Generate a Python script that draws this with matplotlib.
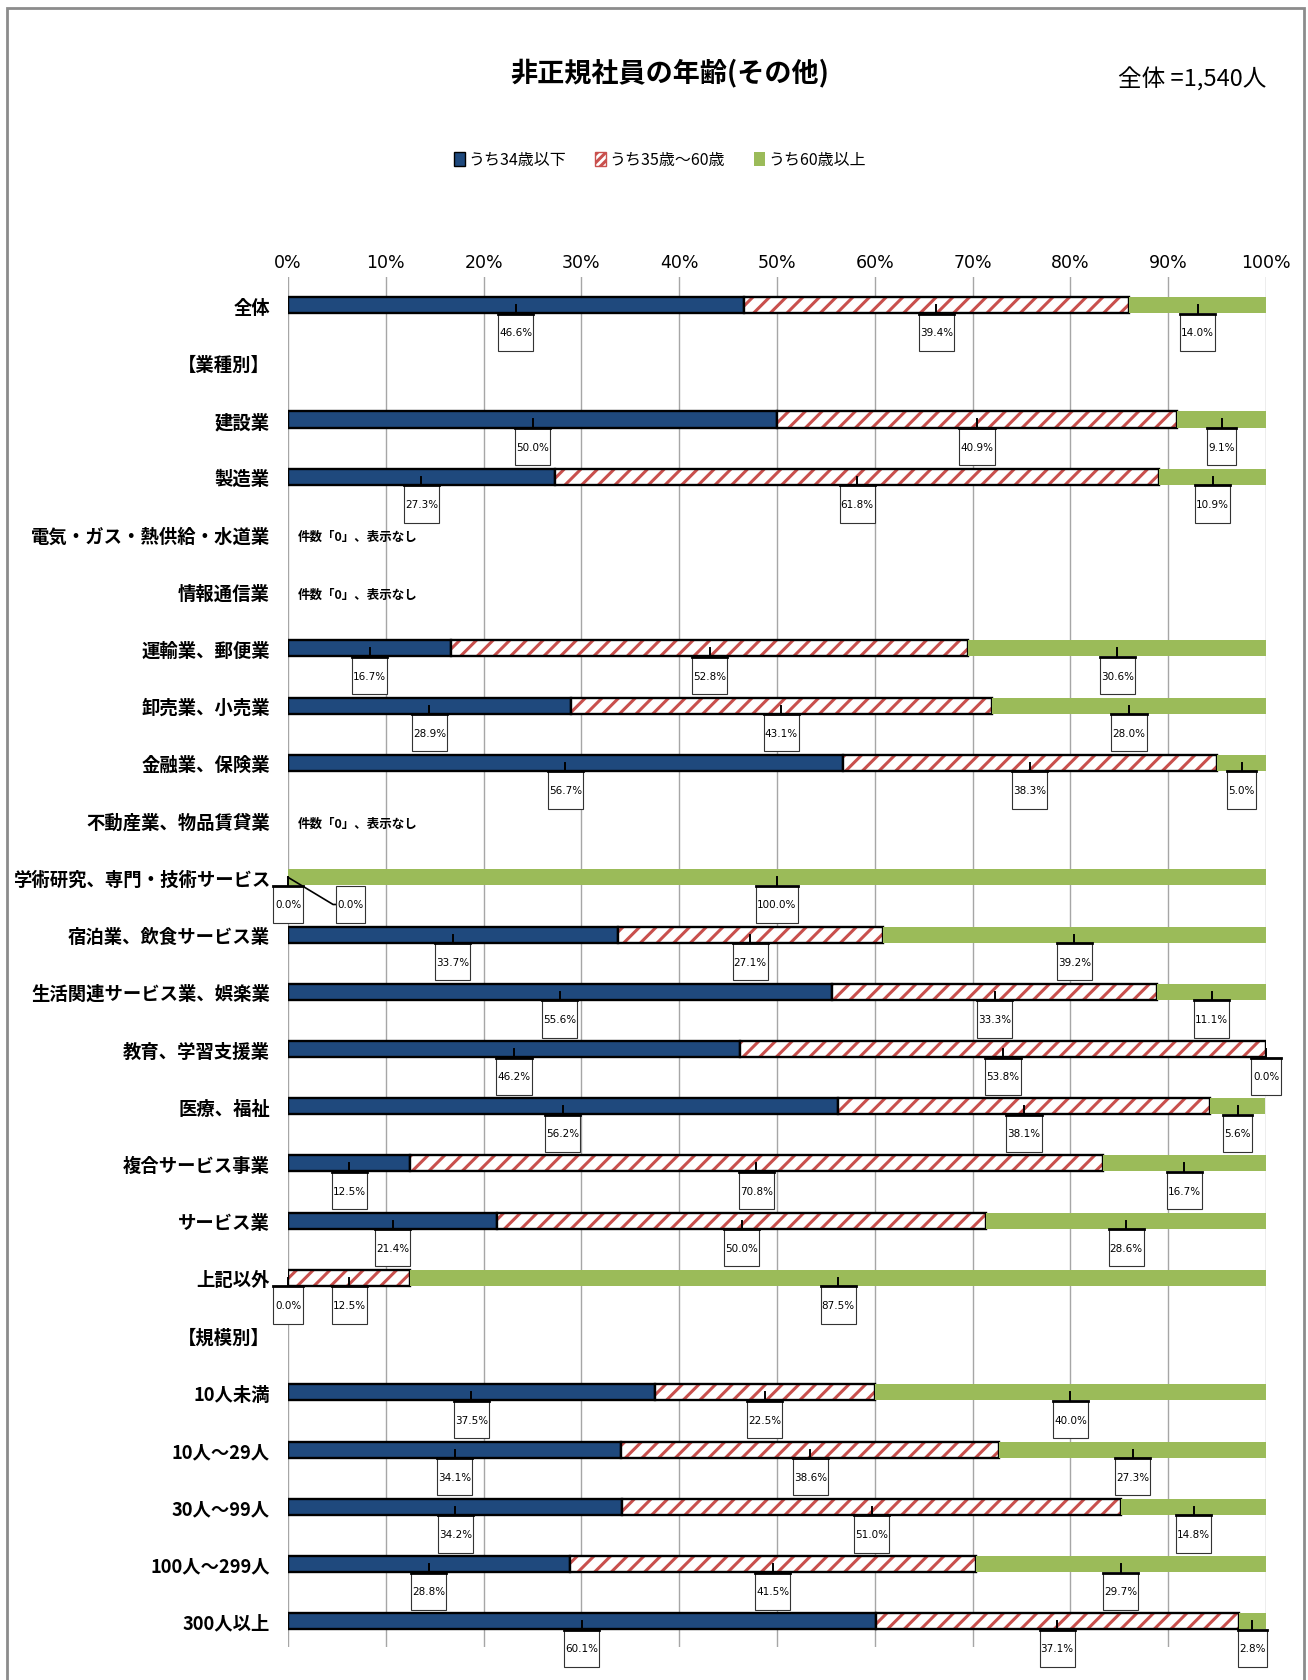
import matplotlib
matplotlib.use("Agg")
import matplotlib.pyplot as plt
from matplotlib.patches import Patch, Rectangle
import numpy as np

plt.rcParams['font.family'] = ['Noto Sans CJK JP', 'DejaVu Sans']
plt.rcParams['hatch.linewidth'] = 2.2

nan = np.nan

# rows of the chart, top to bottom (section headers carry no data)
categories = ['全体', '【業種別】', '建設業', '製造業', '電気・ガス・熱供給・水道業', '情報通信業',
              '運輸業、郵便業', '卸売業、小売業', '金融業、保険業', '不動産業、物品賃貸業',
              '学術研究、専門・技術サービス', '宿泊業、飲食サービス業', '生活関連サービス業、娯楽業',
              '教育、学習支援業', '医療、福祉', '複合サービス事業', 'サービス業', '上記以外',
              '【規模別】', '10人未満', '10人～29人', '30人～99人', '100人～299人', '300人以上']

under34 = [46.6, nan, 50.0, 27.3, nan, nan, 16.7, 28.9, 56.7, nan, 0.0, 33.7, 55.6,
           46.2, 56.2, 12.5, 21.4, 0.0, nan, 37.5, 34.1, 34.2, 28.8, 60.1]
age35_60 = [39.4, nan, 40.9, 61.8, nan, nan, 52.8, 43.1, 38.3, nan, 0.0, 27.1, 33.3,
            53.8, 38.1, 70.8, 50.0, 12.5, nan, 22.5, 38.6, 51.0, 41.5, 37.1]
over60 = [14.0, nan, 9.1, 10.9, nan, nan, 30.6, 28.0, 5.0, nan, 100.0, 39.2, 11.1,
          0.0, 5.6, 16.7, 28.6, 87.5, nan, 40.0, 27.3, 14.8, 29.7, 2.8]

series_names = ['うち34歳以下', 'うち35歳～60歳', 'うち60歳以上']
no_data_rows = ['電気・ガス・熱供給・水道業', '情報通信業', '不動産業、物品賃貸業']
no_data_text = '件数「0」、表示なし'

navy = '#1f497d'
red = '#c9504d'
green = '#9bbb59'
narrow = ['Liberation Sans Narrow', 'DejaVu Sans']

fig = plt.figure(figsize=(13.08, 16.81), dpi=100)
W, H = 1308, 1681
ax = fig.add_axes([288 / W, 1 - 1648 / H, (1266 - 288) / W, (1648 - 278) / H])

y = np.arange(len(categories))
bh = 0.28

a = np.array(under34)
b = np.array(age35_60)
c = np.array(over60)

for i in y:
    if np.isnan(a[i]):
        continue
    if a[i] > 0:
        ax.barh(i, a[i], height=bh, color=navy, edgecolor='black', linewidth=1.7, zorder=3)
    if b[i] > 0:
        ax.barh(i, b[i], left=a[i], height=bh, color='white', edgecolor=red,
                hatch='//', linewidth=0, zorder=3)
        ax.barh(i, b[i], left=a[i], height=bh, fill=False, edgecolor='black',
                linewidth=1.7, zorder=3)
    if c[i] > 0:
        ax.barh(i, c[i], left=a[i] + b[i], height=bh, color=green, linewidth=0, zorder=3)


def label_box(xc, row, text, leader_from=None):
    w = 0.62 * len(text) + 0.5
    top = row + 0.15
    hgt = 0.65
    ax.add_patch(Rectangle((xc - w / 2, top), w, hgt, facecolor='white',
                           edgecolor='#333333', linewidth=0.8, zorder=5, clip_on=False))
    ax.text(xc, top + hgt / 2, text, ha='center', va='center', fontsize=7.5,
            family=narrow, zorder=6, clip_on=False)
    if leader_from is None:
        ax.plot([xc, xc], [row, top], color='black', lw=1.4, zorder=4, clip_on=False)
        ax.plot([xc - w / 2, xc + w / 2], [top, top], color='black', lw=2, zorder=6,
                clip_on=False)
    else:
        x0, y0 = leader_from
        xl = xc - w / 2
        ax.plot([x0, xl - 0.3, xl], [y0, top + hgt / 2, top + hgt / 2], color='black',
                lw=1.2, zorder=4, clip_on=False)


for i in y:
    if np.isnan(a[i]):
        continue
    label_box(a[i] / 2, i, f'{a[i]:.1f}%')
    if categories[i] == '学術研究、専門・技術サービス':
        # middle label pulled off to the side with a leader line
        label_box(6.4, i, f'{b[i]:.1f}%', leader_from=(0, i))
    else:
        label_box(a[i] + b[i] / 2, i, f'{b[i]:.1f}%')
    label_box(a[i] + b[i] + c[i] / 2, i, f'{c[i]:.1f}%')

for name in no_data_rows:
    i = categories.index(name)
    ax.text(1.0, i + 0.05, no_data_text, ha='left', va='center', fontsize=9,
            fontweight='bold', zorder=6)

ax.set_xlim(0, 100)
ax.set_ylim(23.45, -0.49)
ax.set_xticks(np.arange(0, 101, 10))
ax.set_xticklabels([f'{t}%' for t in range(0, 101, 10)], family=narrow, fontsize=12.5)
ax.xaxis.tick_top()
ax.tick_params(axis='x', length=0, pad=4)
ax.set_yticks(y)
ax.set_yticklabels(categories, fontsize=13.2, fontweight='bold')
ax.tick_params(axis='y', length=0, pad=13)
ax.grid(axis='x', color='#a6a6a6', linewidth=1, zorder=0)
ax.set_axisbelow(True)
for s in ax.spines.values():
    s.set_visible(False)

fig.text(670 / W, 1 - 73 / H, '非正規社員の年齢(その他)', ha='center', va='center',
         fontsize=19.5, fontweight='bold')
fig.text(1192 / W, 1 - 80 / H, '全体 =1,540人', ha='center', va='center', fontsize=17)

handles = [Patch(facecolor=navy, edgecolor='black'),
           Patch(facecolor='white', edgecolor=red, hatch='////'),
           Patch(facecolor=green)]
fig.legend(handles, series_names, loc='center', bbox_to_anchor=(660 / W, 1 - 161 / H),
           ncol=3, frameon=False, fontsize=11.5, handlelength=0.7, handleheight=0.9,
           handletextpad=0.2, columnspacing=1.8)

fig.patches.append(Rectangle((7 / W, -0.01), (1304 - 7) / W, (H - 9) / H + 0.01,
                             transform=fig.transFigure, fill=False,
                             edgecolor='#8c8c8c', linewidth=2))

fig.savefig('out.png', dpi=100, facecolor='white')
